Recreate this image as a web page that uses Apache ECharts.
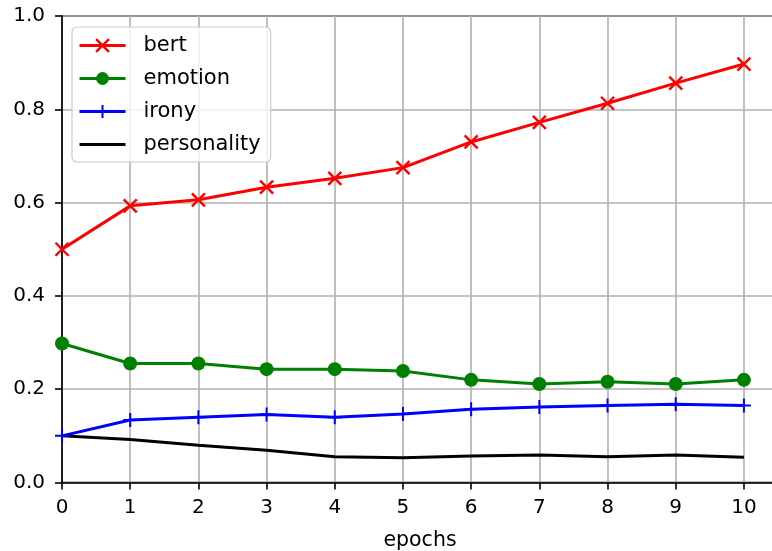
<!DOCTYPE html>
<html>
<head>
<meta charset="utf-8">
<script src="https://cdn.jsdelivr.net/npm/echarts@6/dist/echarts.min.js"></script>
<style>
  html, body { margin: 0; padding: 0; background: #fff; }
  #chart { width: 772px; height: 551px; }
</style>
</head>
<body>
<div id="chart"></div>
<script>
// Per-epoch scores for each task
const epochs = [0, 1, 2, 3, 4, 5, 6, 7, 8, 9, 10];
const bert = [0.500, 0.593, 0.606, 0.633, 0.652, 0.675, 0.730, 0.772, 0.813, 0.856, 0.897];
const emotion = [0.298, 0.255, 0.255, 0.243, 0.243, 0.239, 0.220, 0.211, 0.216, 0.211, 0.220];
const irony = [0.100, 0.134, 0.140, 0.146, 0.140, 0.147, 0.157, 0.162, 0.165, 0.168, 0.165];
const personality = [0.100, 0.092, 0.080, 0.069, 0.055, 0.053, 0.057, 0.059, 0.055, 0.059, 0.054];
const seriesNames = ['bert', 'emotion', 'irony', 'personality'];
const yTicks = [0.0, 0.2, 0.4, 0.6, 0.8, 1.0];

const FONT = 'DejaVu Sans';
const pairs = (ys) => epochs.map((x, i) => [x, ys[i]]);

// Stroke-only marker shapes
const CROSS_X = 'path://M0,0L10,10M10,0L0,10';
const PLUS = 'path://M5,0L5,10M0,5L10,5';

function lineSeries(name, ys, color, symbol, size, markerEdge) {
  return {
    name: name,
    type: 'line',
    data: pairs(ys),
    symbol: symbol,
    symbolSize: size,
    showSymbol: symbol !== 'none',
    lineStyle: { color: color, width: 3 },
    itemStyle: markerEdge
      ? { color: color, borderColor: color, borderWidth: markerEdge }
      : { color: color, borderWidth: 0 },
    emphasis: { disabled: true },
    animation: false,
    z: 3
  };
}

const chart = echarts.init(document.getElementById('chart'), null, { renderer: 'canvas' });
chart.setOption({
  backgroundColor: '#ffffff',
  animation: false,
  grid: {
    left: 62, top: 16, width: 716, height: 466.5,
    outerBoundsMode: 'none', containLabel: false,
    show: true, borderColor: '#000', borderWidth: 1.6, backgroundColor: 'transparent'
  },
  legend: {
    data: [
      { name: 'bert' },
      { name: 'emotion' },
      { name: 'irony' },
      { name: 'personality', itemStyle: { opacity: 0 } }
    ],
    orient: 'vertical',
    left: 72, top: 27,
    padding: [7, 10, 6, 6],
    itemWidth: 46, itemHeight: 16, itemGap: 10,
    lineStyle: { width: 'inherit' },
    itemStyle: { borderWidth: 'inherit' },
    backgroundColor: 'rgba(255,255,255,0.8)',
    borderColor: '#cccccc', borderWidth: 1.2, borderRadius: 5,
    textStyle: { fontFamily: FONT, fontSize: 21, color: '#000', lineHeight: 23, padding: [0, 0, 0, 13] },
    selectedMode: false
  },
  xAxis: {
    type: 'value',
    min: 0, max: 10.5, interval: 1,
    name: 'epochs', nameLocation: 'middle', nameGap: 48,
    nameTextStyle: { fontFamily: FONT, fontSize: 20.5, color: '#000' },
    axisLine: { show: true, onZero: false, lineStyle: { color: '#000', width: 1.6 } },
    axisTick: { show: true, length: 7, lineStyle: { color: '#000', width: 1.6 } },
    axisLabel: {
      fontFamily: FONT, fontSize: 20, color: '#000', margin: 15,
      showMaxLabel: false,
      formatter: (v) => (Number.isInteger(v) && epochs.includes(v)) ? String(v) : ''
    },
    splitLine: { show: true, lineStyle: { color: '#b0b0b0', width: 1.6 } }
  },
  yAxis: {
    type: 'value',
    min: 0, max: 1, interval: 0.2,
    axisLine: { show: true, lineStyle: { color: '#000', width: 1.6 } },
    axisTick: { show: true, length: 7, lineStyle: { color: '#000', width: 1.6 } },
    axisLabel: {
      fontFamily: FONT, fontSize: 20, color: '#000', margin: 17,
      formatter: (v) => {
        const t = yTicks.find((k) => Math.abs(k - v) < 1e-9);
        return t === undefined ? '' : t.toFixed(1);
      }
    },
    splitLine: { show: true, lineStyle: { color: '#b0b0b0', width: 1.6 } }
  },
  series: [
    lineSeries('bert', bert, '#ff0000', CROSS_X, 13, 2.4),
    lineSeries('emotion', emotion, '#008000', 'circle', 14, 0),
    lineSeries('irony', irony, '#0000ff', PLUS, 14, 2),
    lineSeries('personality', personality, '#000000', 'none', 0, 0)
  ]
});
</script>
</body>
</html>
